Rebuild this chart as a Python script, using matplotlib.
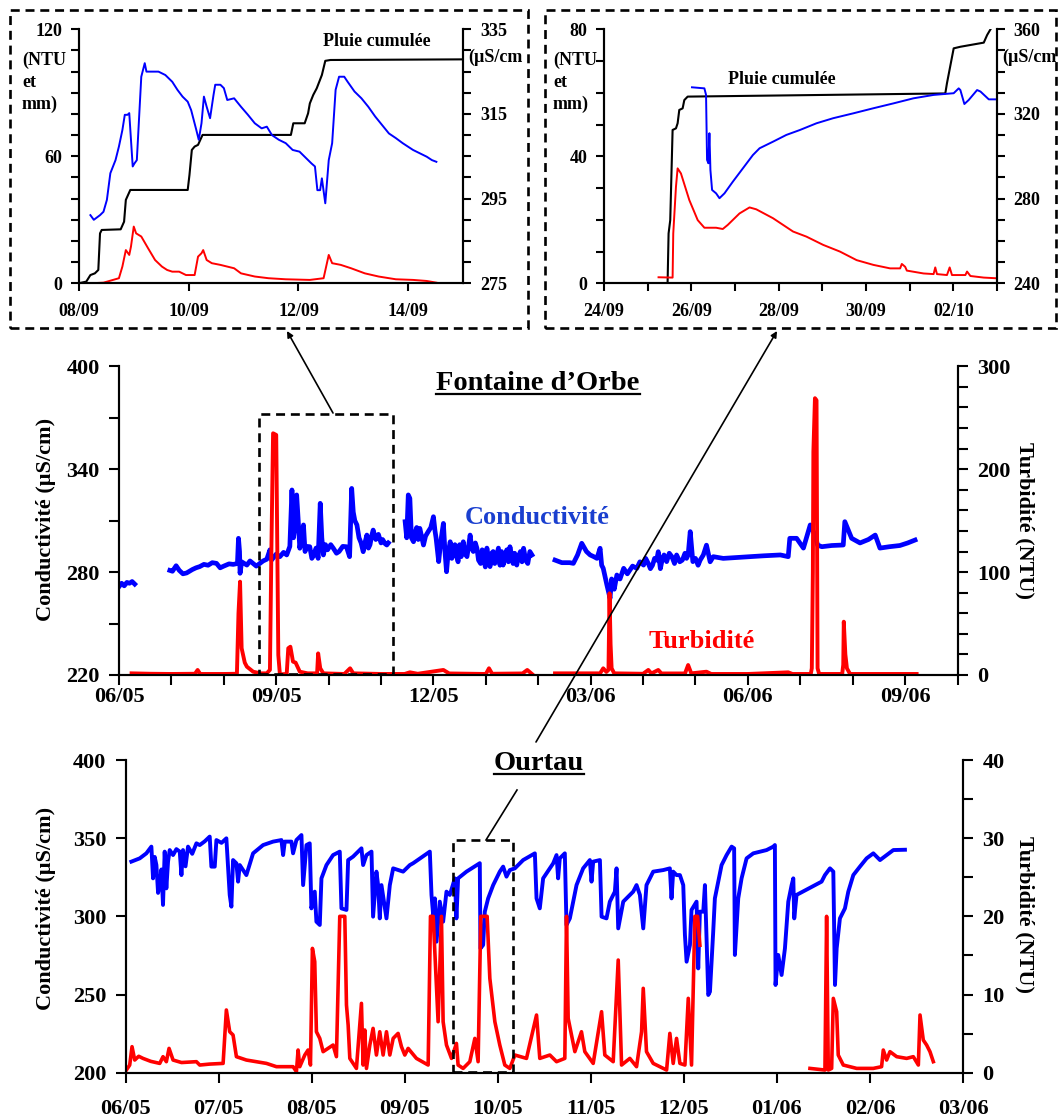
import numpy as np
import matplotlib
matplotlib.use('Agg')
from matplotlib import pyplot as plt
from matplotlib.patches import Rectangle, FancyArrowPatch
from matplotlib.lines import Line2D

plt.rcParams.update({'font.family': 'Liberation Serif', 'font.weight': 'bold',
                     'font.size': 16})

nan = np.nan

# ---------------- data ----------------
# inset 1 : days since 08/09
in1_xlabels = ['08/09', '10/09', '12/09', '14/09']
in1_rain = np.array([
    (0.0, 0.0), (0.138, 0.8), (0.213, 3.9), (0.294, 4.7), (0.357, 6.3), (0.388, 23.6),
    (0.419, 25.2), (0.764, 25.5), (0.826, 29.1), (0.858, 39.4), (0.939, 44.1),
    (1.984, 44.1), (2.016, 51.2), (2.059, 63.0), (2.110, 64.6), (2.172, 65.4),
    (2.254, 70.1), (3.862, 70.1), (3.906, 75.6), (4.113, 75.6), (4.175, 80.3),
    (4.207, 85.0), (4.269, 89.0), (4.332, 92.1), (4.426, 98.4), (4.488, 105.1),
    (4.582, 105.5), (7.0, 105.8)])
in1_turb = np.array([
    (0.213, 0.0), (0.451, 0.3), (0.732, 2.4), (0.795, 7.9), (0.858, 15.7), (0.920, 13.4),
    (0.951, 17.3), (1.002, 26.8), (1.045, 23.6), (1.139, 22.1), (1.264, 16.5),
    (1.390, 11.0), (1.515, 7.9), (1.609, 6.3), (1.703, 5.5), (1.828, 5.5), (1.953, 3.9),
    (2.110, 3.9), (2.172, 12.6), (2.235, 14.2), (2.266, 15.7), (2.329, 11.0),
    (2.423, 9.5), (2.579, 8.7), (2.829, 7.1), (2.954, 4.7), (3.205, 3.2), (3.455, 2.4),
    (3.768, 1.9), (4.207, 1.6), (4.457, 2.4), (4.551, 13.4), (4.613, 9.5), (4.770, 8.7),
    (4.958, 7.1), (5.208, 4.7), (5.459, 3.2), (5.772, 1.9), (6.085, 1.6), (6.335, 1.1),
    (6.510, 0.3)])
in1_cond = np.array([
    (0.213, 291.1), (0.275, 290.0), (0.388, 291.1), (0.451, 291.9), (0.513, 294.7),
    (0.576, 301.0), (0.670, 304.1), (0.732, 307.3), (0.795, 311.2), (0.839, 314.8),
    (0.889, 314.8), (0.920, 315.2), (0.983, 302.6), (1.014, 303.3), (1.058, 304.1),
    (1.139, 323.8), (1.202, 327.0), (1.233, 325.0), (1.327, 325.0), (1.452, 325.0),
    (1.577, 324.2), (1.703, 322.6), (1.797, 320.7), (1.890, 319.1), (1.984, 317.9),
    (2.047, 315.9), (2.141, 311.2), (2.185, 308.9), (2.235, 312.8), (2.279, 319.1),
    (2.329, 316.7), (2.391, 314.0), (2.454, 319.5), (2.485, 321.9), (2.579, 321.9),
    (2.642, 321.1), (2.704, 318.3), (2.829, 318.7), (2.954, 316.7), (3.080, 314.8),
    (3.205, 312.8), (3.330, 311.6), (3.424, 312.0), (3.518, 310.0), (3.643, 308.9),
    (3.768, 308.1), (3.894, 306.5), (4.019, 306.1), (4.144, 304.5), (4.238, 303.3),
    (4.300, 302.6), (4.344, 297.0), (4.394, 297.0), (4.426, 299.8), (4.488, 293.9),
    (4.551, 304.1), (4.613, 308.1), (4.676, 320.7), (4.739, 323.8), (4.833, 323.8),
    (4.895, 322.6), (5.020, 320.3), (5.146, 318.7), (5.271, 316.7), (5.396, 314.4),
    (5.521, 312.4), (5.646, 310.4), (5.772, 309.3), (5.897, 308.1), (5.991, 307.3),
    (6.085, 306.5), (6.210, 305.7), (6.335, 304.9), (6.429, 304.1), (6.510, 303.7)])

# inset 2 : days since 24/09
in2_xlabels = ['24/09', '26/09', '28/09', '30/09', '02/10']
in2_rain = np.array([
    (1.456, 0.0), (1.479, 15.7), (1.517, 19.9), (1.571, 48.3), (1.648, 48.8),
    (1.686, 50.4), (1.724, 54.6), (1.801, 55.1), (1.839, 57.7), (1.916, 58.8),
    (7.816, 59.8), (7.854, 63.0), (8.008, 74.0), (8.161, 74.5), (8.697, 75.8),
    (8.774, 78.2), (8.851, 80.0)])
in2_turb = np.array([
    (1.249, 1.9), (1.571, 1.8), (1.586, 15.7), (1.648, 30.4), (1.686, 36.2), (1.762, 34.6),
    (1.954, 26.2), (2.146, 19.9), (2.299, 17.5), (2.567, 17.5), (2.720, 17.1),
    (2.835, 18.4), (3.103, 22.0), (3.333, 23.9), (3.487, 23.3), (3.870, 20.5),
    (4.330, 16.3), (4.636, 14.7), (5.019, 12.1), (5.402, 10.0), (5.785, 7.3),
    (6.169, 5.8), (6.552, 4.7), (6.782, 4.7), (6.820, 6.1), (6.897, 5.2), (6.935, 4.0),
    (7.318, 3.1), (7.548, 2.9), (7.586, 5.0), (7.625, 2.9), (7.854, 2.6), (7.916, 5.0),
    (7.969, 2.6), (8.276, 2.6), (8.314, 3.7), (8.391, 2.3), (8.697, 1.8), (8.966, 1.6)])
in2_cond = np.array([
    (2.015, 332.6), (2.299, 332.1), (2.337, 329.0), (2.360, 298.3), (2.391, 296.7),
    (2.414, 310.9), (2.437, 293.5), (2.475, 284.1), (2.567, 282.5), (2.644, 280.2),
    (2.759, 282.5), (2.950, 288.0), (3.180, 294.3), (3.410, 300.6), (3.563, 303.8),
    (3.870, 306.9), (4.176, 310.1), (4.483, 312.4), (4.866, 315.6), (5.249, 318.0),
    (5.709, 320.3), (6.169, 322.7), (6.628, 325.0), (7.088, 327.4), (7.548, 329.0),
    (8.008, 329.8), (8.123, 332.1), (8.161, 331.3), (8.253, 324.7), (8.352, 326.6),
    (8.544, 331.3), (8.621, 330.6), (8.812, 326.9), (9.004, 326.9)])

# Fontaine d'Orbe : months since 06/05
fo_xlabels = ['06/05', '09/05', '12/05', '03/06', '06/06', '09/06']
fo_cond = np.array([
    (0.00, 271.5), (0.05, 273.5), (0.10, 272.0), (0.15, 274.0), (0.20, 273.5),
    (0.25, 274.5), (0.30, 273.0), (nan, nan),
    (0.97, 281.0), (1.02, 280.5), (1.09, 283.7), (1.15, 281.0), (1.22, 279.0),
    (1.29, 279.5), (1.40, 281.5), (1.47, 282.5), (1.54, 283.2), (1.62, 284.5),
    (1.70, 284.0), (1.78, 285.5), (1.86, 285.1), (1.93, 282.5), (2.00, 283.5),
    (2.10, 284.8), (2.18, 284.5), (2.26, 285.0), (2.28, 299.7), (2.30, 292.0),
    (2.31, 279.3), (2.34, 286.0), (2.44, 284.1), (2.50, 286.5), (2.56, 285.0),
    (2.62, 283.5), (2.69, 285.1), (2.75, 286.5), (2.82, 287.5), (2.88, 293.0),
    (2.91, 287.0), (3.00, 290.5), (3.07, 289.0), (3.14, 291.5), (3.20, 290.0),
    (3.26, 295.0), (3.30, 327.9), (3.33, 300.0), (3.35, 305.0), (3.39, 325.0),
    (3.42, 310.0), (3.45, 293.9), (3.48, 300.0), (3.52, 307.5), (3.55, 292.0),
    (3.58, 295.0), (3.64, 294.8), (3.68, 288.0), (3.72, 290.0), (3.76, 294.0),
    (3.80, 288.0), (3.84, 320.1), (3.87, 300.0), (3.90, 290.0), (3.94, 296.0),
    (3.98, 293.0), (4.04, 296.0), (4.09, 293.9), (4.15, 291.0), (4.20, 292.0),
    (4.27, 295.0), (4.34, 294.8), (4.40, 289.0), (4.44, 328.8), (4.47, 315.0),
    (4.50, 310.0), (4.54, 307.5), (4.58, 300.0), (4.62, 297.0), (4.66, 291.9),
    (4.70, 298.0), (4.73, 301.6), (4.76, 294.0), (4.79, 296.0), (4.82, 301.0),
    (4.85, 304.5), (4.90, 299.0), (4.95, 302.0), (5.00, 297.0), (5.03, 299.0),
    (5.08, 296.5), (5.11, 295.8), (5.14, 297.0), (nan, nan),
    (5.46, 309.4), (5.49, 300.0), (5.52, 325.0), (5.55, 323.0), (5.58, 300.0),
    (5.62, 297.7), (5.65, 303.0), (5.68, 306.0), (5.71, 299.0), (5.74, 305.5),
    (5.78, 300.0), (5.81, 295.8), (5.85, 301.0), (5.90, 303.6), (5.95, 306.0),
    (6.00, 312.3), (6.03, 304.0), (6.05, 300.0), (6.08, 292.0), (6.10, 286.1),
    (6.13, 295.0), (6.15, 300.0), (6.19, 308.4), (6.22, 292.0), (6.25, 280.2),
    (6.28, 291.0), (6.32, 297.7), (6.35, 288.0), (6.38, 290.0), (6.41, 296.0),
    (6.44, 290.0), (6.47, 286.0), (6.50, 296.0), (6.53, 289.0), (6.57, 297.7),
    (6.60, 291.0), (6.64, 289.0), (6.67, 295.0), (6.70, 301.6), (6.73, 294.0),
    (6.76, 292.0), (6.80, 297.0), (6.83, 293.9), (6.86, 287.0), (6.90, 285.0),
    (6.93, 293.0), (6.95, 290.0), (6.99, 283.0), (7.02, 294.0), (7.05, 288.0),
    (7.08, 283.2), (7.11, 291.0), (7.14, 292.0), (7.17, 285.0), (7.21, 290.0),
    (7.24, 294.0), (7.27, 284.0), (7.30, 292.0), (7.33, 284.1), (7.37, 290.0),
    (7.40, 293.0), (7.43, 286.0), (7.46, 294.8), (7.49, 290.0), (7.52, 285.0),
    (7.55, 291.0), (7.59, 284.1), (7.62, 289.0), (7.66, 292.0), (7.69, 286.0),
    (7.72, 293.9), (7.76, 287.0), (7.80, 285.0), (7.84, 292.0), (7.88, 290.0),
    (nan, nan),
    (8.32, 287.0), (8.45, 285.5), (8.60, 285.5), (8.67, 285.1), (8.75, 290.0),
    (8.83, 296.8), (8.92, 292.0), (8.99, 290.0), (9.06, 289.0), (9.12, 288.0),
    (9.18, 293.9), (9.21, 284.0), (9.24, 282.2), (9.31, 272.5), (9.37, 264.7),
    (9.40, 276.0), (9.45, 270.0), (9.50, 278.3), (9.56, 276.0), (9.63, 282.2),
    (9.70, 279.0), (9.80, 283.5), (9.88, 282.2), (9.94, 286.0), (10.01, 284.1),
    (10.05, 288.0), (10.10, 285.0), (10.14, 282.0), (10.18, 284.0), (10.22, 288.0),
    (10.26, 287.0), (10.29, 291.9), (10.33, 282.0), (10.37, 288.0), (10.40, 290.0),
    (10.45, 286.1), (10.50, 291.0), (10.55, 289.0), (10.60, 285.0), (10.64, 290.0),
    (10.70, 286.0), (10.75, 287.0), (10.80, 291.0), (10.83, 288.0), (10.86, 290.0),
    (10.90, 303.6), (10.95, 286.1), (11.00, 288.0), (11.05, 284.0), (11.09, 287.0),
    (11.15, 290.0), (11.21, 295.7), (11.28, 286.0), (11.34, 289.0), (11.53, 288.0),
    (11.80, 288.5), (12.04, 289.0), (12.30, 289.5), (12.62, 290.0), (12.77, 289.0),
    (12.80, 299.7), (12.93, 299.7), (13.06, 294.0), (13.19, 307.5), (13.28, 301.6),
    (13.33, 295.8), (13.41, 294.8), (13.60, 295.5), (13.82, 295.8), (13.85, 309.4),
    (13.98, 299.7), (14.14, 297.0), (14.30, 299.0), (14.43, 301.6), (14.52, 294.0),
    (14.70, 294.8), (14.90, 295.5), (15.05, 297.0), (15.19, 298.7)])
fo_turb = np.array([
    (0.24, 1.6), (0.60, 1.2), (1.00, 1.0), (1.45, 1.2), (1.50, 4.9), (1.55, 1.0),
    (2.00, 1.0), (2.25, 1.2), (2.28, 60.0), (2.31, 90.7), (2.34, 26.0), (2.40, 12.0),
    (2.44, 8.1), (2.56, 3.2), (2.70, 1.6), (2.82, 1.6), (2.88, 5.0), (2.91, 129.6),
    (2.94, 234.9), (3.00, 233.3), (3.04, 19.4), (3.07, 0.6), (3.20, 1.0), (3.23, 26.0),
    (3.27, 27.5), (3.32, 13.0), (3.37, 12.0), (3.45, 3.2), (3.60, 1.6), (3.78, 1.6),
    (3.80, 21.0), (3.84, 6.5), (3.90, 1.6), (4.30, 1.0), (4.41, 6.5), (4.47, 1.6),
    (5.00, 1.0), (5.45, 1.0), (5.55, 2.6), (5.70, 1.2), (6.19, 4.9), (6.30, 1.5),
    (7.00, 1.0), (7.06, 6.5), (7.12, 1.2), (7.70, 1.5), (7.79, 4.9), (7.88, 1.0),
    (nan, nan),
    (8.32, 1.6), (8.70, 1.6), (9.18, 1.6), (9.24, 6.5), (9.30, 3.0), (9.34, 5.0),
    (9.36, 79.4), (9.38, 30.0), (9.40, 6.5), (9.45, 1.6), (10.00, 1.2), (10.10, 4.9),
    (10.16, 1.5), (10.29, 4.9), (10.35, 1.5), (10.80, 1.5), (10.86, 9.7), (10.92, 1.6),
    (11.21, 3.2), (11.30, 1.0), (12.00, 1.0), (12.77, 2.6), (12.85, 1.0), (13.20, 1.0),
    (13.22, 6.5), (13.24, 100.0), (13.25, 217.0), (13.28, 269.0), (13.31, 267.0),
    (13.33, 6.5), (13.36, 1.0), (13.80, 1.0), (13.82, 10.0), (13.83, 51.8),
    (13.86, 20.0), (13.89, 6.5), (13.95, 1.0), (15.22, 1.0)])

# Ourtau : months since 06/05
ou_xlabels = ['06/05', '07/05', '08/05', '09/05', '10/05', '11/05', '12/05',
              '01/06', '02/06', '03/06']
ou_cond = np.array([
    (0.061, 335.0), (0.151, 337.1), (0.222, 340.3), (0.276, 344.6), (0.294, 324.3),
    (0.312, 338.0), (0.330, 332.8), (0.348, 315.0), (0.366, 320.0), (0.384, 330.0),
    (0.401, 307.3), (0.419, 341.4), (0.437, 317.9), (0.455, 335.0), (0.473, 342.4),
    (0.509, 339.2), (0.545, 343.0), (0.581, 341.4), (0.599, 326.4), (0.616, 342.4),
    (0.643, 332.0), (0.670, 344.6), (0.715, 340.0), (0.760, 346.7), (0.796, 345.6),
    (0.850, 348.0), (0.903, 351.0), (0.921, 331.8), (0.957, 331.8), (0.975, 348.8),
    (1.030, 347.0), (1.082, 349.9), (1.118, 313.7), (1.136, 306.2),
    (1.154, 336.0), (1.190, 333.9), (1.208, 322.2), (1.226, 332.8), (1.297, 326.4),
    (1.369, 340.3), (1.477, 345.6), (1.584, 347.8), (1.674, 348.8), (1.692, 339.2),
    (1.710, 347.8), (1.781, 347.8), (1.799, 340.3), (1.835, 348.8), (1.889, 352.0),
    (1.907, 320.0), (1.943, 345.6), (1.978, 346.7), (1.996, 305.1), (2.032, 315.8),
    (2.050, 296.6), (2.086, 294.5), (2.104, 324.3), (2.158, 332.8), (2.229, 339.2),
    (2.301, 341.4), (2.319, 305.1), (2.373, 304.1), (2.391, 336.0), (2.444, 338.2),
    (2.534, 343.5), (2.552, 332.8), (2.588, 339.2), (2.642, 341.4), (2.659, 299.8),
    (2.695, 328.6), (2.713, 320.0), (2.731, 298.7), (2.749, 320.0), (2.803, 298.7),
    (2.839, 320.0), (2.875, 330.7), (2.982, 328.6), (3.054, 332.8), (3.090, 334.0),
    (3.269, 341.4), (3.287, 313.7), (3.305, 300.9), (3.323, 311.5), (3.341, 283.8),
    (3.376, 309.4), (3.412, 296.6), (3.448, 315.8), (3.484, 313.7), (3.538, 324.3),
    (3.555, 298.7), (3.573, 324.3), (3.663, 328.6), (3.806, 334.0), (3.813, 279.5),
    (3.842, 281.7), (3.860, 303.0), (3.896, 311.5), (3.950, 320.0), (4.021, 328.6),
    (4.057, 331.8), (4.093, 325.4), (4.129, 329.6), (4.183, 330.7), (4.272, 336.0),
    (4.398, 340.3), (4.416, 311.5), (4.451, 305.1), (4.487, 324.3), (4.595, 333.9),
    (4.631, 339.2), (4.648, 324.3), (4.666, 337.1), (4.720, 340.3), (4.738, 294.5),
    (4.774, 298.7), (4.846, 320.0), (4.917, 330.7), (4.989, 336.0), (5.007, 322.2),
    (5.025, 335.0), (5.097, 336.0), (5.115, 299.8), (5.168, 298.7), (5.204, 309.4),
    (5.258, 315.8), (5.276, 330.7), (5.294, 292.3), (5.348, 309.4), (5.455, 315.8),
    (5.491, 320.0), (5.527, 313.7), (5.563, 292.3), (5.598, 320.0), (5.670, 328.6),
    (5.778, 329.6), (5.849, 330.7), (5.867, 311.5), (5.885, 328.6), (5.921, 326.4),
    (5.957, 326.4), (5.993, 320.0), (6.011, 288.1), (6.029, 271.0), (6.065, 281.7),
    (6.082, 304.1), (6.136, 309.4), (6.154, 266.7), (6.172, 303.0), (6.208, 303.0),
    (6.226, 320.0), (6.262, 249.7), (6.280, 251.8), (6.315, 290.2), (6.333, 311.5),
    (6.369, 322.2), (6.405, 332.8), (6.459, 339.2), (6.513, 344.6), (6.540, 343.5),
    (6.548, 275.3), (6.584, 311.5), (6.620, 324.3), (6.674, 337.1), (6.746, 340.3),
    (6.889, 342.4), (6.961, 344.6), (6.978, 345.6), (6.985, 256.1), (7.014, 275.3),
    (7.050, 262.5), (7.086, 279.5), (7.122, 309.4), (7.158, 320.0), (7.176, 324.3),
    (7.186, 298.7), (7.211, 313.7), (7.480, 322.2), (7.516, 326.4), (7.570, 330.7),
    (7.606, 328.6), (7.624, 256.1), (7.642, 279.5), (7.677, 298.7), (7.731, 305.1),
    (7.767, 315.8), (7.821, 326.4), (7.892, 331.8), (7.964, 337.1), (8.036, 340.3),
    (8.108, 336.0), (8.179, 339.2), (8.251, 342.4), (8.376, 342.6)])
ou_turb = np.array([
    (0.007, 0.34), (0.043, 0.98), (0.068, 3.33), (0.097, 1.62), (0.140, 2.10),
    (0.186, 1.83), (0.270, 1.45), (0.366, 1.19), (0.401, 2.05), (0.437, 1.41),
    (0.466, 3.11), (0.509, 1.62), (0.600, 1.30), (0.760, 1.41), (0.796, 0.98),
    (0.900, 1.10), (1.047, 1.19), (1.082, 8.02), (1.118, 5.24),
    (1.154, 4.82), (1.190, 2.05), (1.297, 1.62), (1.513, 1.19), (1.620, 0.77),
    (1.799, 0.77), (1.835, 0.13), (1.853, 2.90), (1.871, 0.77), (1.925, 2.26),
    (1.960, 2.90), (1.986, 0.98), (2.007, 15.9), (2.032, 14.2), (2.050, 5.24),
    (2.086, 4.39), (2.122, 2.69), (2.229, 3.54), (2.265, 2.05), (2.301, 20.0),
    (2.355, 20.0), (2.373, 8.66), (2.391, 6.10), (2.409, 1.83), (2.480, 0.55),
    (2.534, 8.87), (2.552, 0.98), (2.570, 5.46), (2.588, 0.55), (2.624, 3.54),
    (2.659, 5.67), (2.695, 2.26), (2.731, 5.24), (2.767, 2.26), (2.803, 5.24),
    (2.839, 2.26), (2.875, 4.39), (2.928, 5.03), (2.964, 3.33), (3.000, 2.26),
    (3.036, 3.11), (3.125, 1.83), (3.251, 0.98), (3.276, 20.0), (3.305, 20.0),
    (3.358, 6.52), (3.394, 20.0), (3.412, 6.52), (3.448, 3.54), (3.502, 1.83),
    (3.555, 3.75), (3.573, 0.98), (3.627, 0.55), (3.699, 1.41), (3.753, 4.39),
    (3.788, 1.41), (3.817, 20.0), (3.885, 20.0), (3.914, 12.07), (3.968, 6.52),
    (4.021, 3.54), (4.075, 0.98), (4.129, 0.55), (4.183, 2.26), (4.308, 1.83),
    (4.416, 7.38), (4.451, 1.83), (4.559, 2.26), (4.631, 1.41), (4.720, 1.83),
    (4.738, 20.0), (4.756, 6.95), (4.792, 4.82), (4.828, 2.69), (4.899, 5.24),
    (4.935, 2.69), (5.025, 1.19), (5.115, 7.80), (5.150, 2.26), (5.240, 1.41),
    (5.294, 14.41), (5.330, 0.98), (5.419, 1.83), (5.491, 0.77), (5.545, 5.24),
    (5.563, 10.79), (5.598, 2.69), (5.670, 1.19), (5.814, 0.34), (5.849, 5.03),
    (5.885, 1.19), (5.921, 4.39), (5.957, 1.19), (6.011, 0.98), (6.047, 9.51),
    (6.082, 0.98), (6.118, 20.0), (6.147, 20.0), (6.172, 16.3), (nan, nan),
    (7.355, 0.55), (7.516, 0.34), (7.534, 20.0), (7.552, 0.34), (7.588, 0.55),
    (7.606, 9.51), (7.642, 7.80), (7.659, 2.26), (7.713, 0.98), (7.857, 0.55),
    (8.036, 0.55), (8.125, 0.77), (8.143, 2.90), (8.179, 1.62), (8.215, 2.69),
    (8.287, 2.05), (8.394, 1.83), (8.466, 2.05), (8.520, 0.98), (8.538, 7.38),
    (8.573, 4.18), (8.609, 3.54), (8.645, 2.69), (8.681, 1.41)])

BLUE = '#0000ff'
RED = '#ff0000'
W, H = 1059, 1117


def rect(x0, y0, x1, y1):
    # pixel box (top-left origin) -> figure fraction rect
    return [x0 / W, 1 - y1 / H, (x1 - x0) / W, (y1 - y0) / H]


def fx(x):
    return x / W


def fy(y):
    return 1 - y / H


def style(ax, size, length, pad):
    ax.spines['top'].set_visible(False)
    for s in ax.spines.values():
        s.set_linewidth(1.5)
    ax.tick_params(which='both', direction='out', length=length, width=1.5,
                   labelsize=size, pad=pad)


fig = plt.figure(figsize=(W / 100, H / 100), dpi=100)

# ---------------- inset 1 ----------------
a1 = fig.add_axes(rect(78.7, 29.3, 463.3, 283.3))
b1 = a1.twinx()
a1.plot(in1_rain[:, 0], in1_rain[:, 1], color='k', lw=1.5)
a1.plot(in1_turb[:, 0], in1_turb[:, 1], color=RED, lw=1.4)
b1.plot(in1_cond[:, 0], in1_cond[:, 1], color=BLUE, lw=1.4)
a1.set_xlim(0, 7)
a1.set_ylim(0, 120)
b1.set_ylim(275, 335)
a1.set_xticks([0, 2, 4, 6], in1_xlabels)
a1.set_yticks([0, 60, 120])
a1.set_yticks(np.arange(0, 121, 10), minor=True)
b1.set_yticks([275, 295, 315, 335])
b1.set_yticks(np.arange(275, 336, 5), minor=True)
for ax in (a1, b1):
    style(ax, 13, 6, 6)
a1.tick_params(axis='x', pad=8)

# ---------------- inset 2 ----------------
a2 = fig.add_axes(rect(604, 29.3, 997, 283.3))
b2 = a2.twinx()
a2.plot(in2_rain[:, 0], in2_rain[:, 1], color='k', lw=1.5)
a2.plot(in2_turb[:, 0], in2_turb[:, 1], color=RED, lw=1.4)
b2.plot(in2_cond[:, 0], in2_cond[:, 1], color=BLUE, lw=1.4)
a2.set_xlim(0, 9)
a2.set_ylim(0, 80)
b2.set_ylim(240, 360)
a2.set_xticks([0, 2, 4, 6, 8], in2_xlabels)
a2.set_xticks(np.arange(0, 10), minor=True)
a2.set_yticks([0, 40, 80])
a2.set_yticks(np.arange(0, 81, 10), minor=True)
b2.set_yticks([240, 280, 320, 360])
b2.set_yticks(np.arange(240, 361, 10), minor=True)
for ax in (a2, b2):
    style(ax, 13, 6, 6)
a2.tick_params(axis='x', pad=8)

for x0 in (22, 553):
    fig.text(fx(x0), fy(52), '(NTU\net\nmm)', fontsize=13, ha='left', va='top',
             linespacing=1.35)
fig.text(fx(468), fy(57), '(µS/cm', fontsize=13, ha='left', va='center')
fig.text(fx(1002), fy(57), '(µS/cm', fontsize=13, ha='left', va='center')
fig.text(fx(377), fy(42), 'Pluie cumulée', fontsize=13, ha='center', va='center')
fig.text(fx(782), fy(79), 'Pluie cumulée', fontsize=13, ha='center', va='center')

# ---------------- Fontaine d'Orbe ----------------
a3 = fig.add_axes(rect(119, 366.3, 957.5, 675))
b3 = a3.twinx()
a3.plot(fo_cond[:, 0], fo_cond[:, 1], color=BLUE, lw=3.4)
b3.plot(fo_turb[:, 0], fo_turb[:, 1], color=RED, lw=2.8)
a3.set_xlim(0, 16)
a3.set_ylim(220, 400)
b3.set_ylim(0, 300)
a3.set_xticks([0, 3, 6, 9, 12, 15], fo_xlabels)
a3.set_xticks(np.arange(0, 17), minor=True)
a3.set_yticks([220, 280, 340, 400])
a3.set_yticks(np.arange(220, 401, 30), minor=True)
b3.set_yticks([0, 100, 200, 300])
b3.set_yticks(np.arange(0, 301, 20), minor=True)
for ax in (a3, b3):
    style(ax, 16, 7, 7)
a3.tick_params(axis='x', pad=2)

# ---------------- Ourtau ----------------
a4 = fig.add_axes(rect(125.7, 760, 963, 1072.7))
b4 = a4.twinx()
a4.plot(ou_cond[:, 0], ou_cond[:, 1], color=BLUE, lw=2.8)
b4.plot(ou_turb[:, 0], ou_turb[:, 1], color=RED, lw=2.6)
a4.set_xlim(0, 9)
a4.set_ylim(200, 400)
b4.set_ylim(0, 40)
a4.set_xticks(np.arange(0, 10), ou_xlabels)
a4.set_yticks(np.arange(200, 401, 50))
b4.set_yticks(np.arange(0, 41, 10))
b4.set_yticks(np.arange(0, 41, 5), minor=True)
for ax in (a4, b4):
    style(ax, 16, 7, 7)
a4.tick_params(axis='x', pad=12)

# axis labels
for yc in (519, 908):
    fig.text(fx(46), fy(yc), 'Conductivité (µS/cm)', fontsize=16, rotation=90,
             ha='center', va='center')
for yc in (520, 914):
    fig.text(fx(1025), fy(yc), 'Turbidité (NTU)', fontsize=16, rotation=-90,
             ha='center', va='center')

fig.text(fx(537), fy(517), 'Conductivité', fontsize=19, color='#1a3fcf',
         ha='center', va='center')
fig.text(fx(702), fy(641), 'Turbidité', fontsize=19, color=RED,
         ha='center', va='center')

titles = [fig.text(fx(538), fy(383), 'Fontaine d\u2019Orbe', fontsize=20.5,
                   ha='center', va='center'),
          fig.text(fx(539), fy(763), 'Ourtau', fontsize=20.5,
                   ha='center', va='center')]

# dashed boxes and arrows
dash = (0, (3.4, 2.2))
for x0, x1 in ((10, 528), (545, 1056)):
    fig.add_artist(Rectangle((fx(x0), fy(328)), (x1 - x0) / W, (328 - 10) / H,
                             transform=fig.transFigure, fill=False, ec='k',
                             lw=1.9, ls=dash))
for x0, y0, x1, y1 in ((259.3, 414, 392.7, 674), (453, 840, 513, 1072)):
    fig.add_artist(Rectangle((fx(x0), fy(y1)), (x1 - x0) / W, (y1 - y0) / H,
                             transform=fig.transFigure, fill=False, ec='k',
                             lw=1.9, ls=dash))

for p0, p1 in (((333, 413), (287, 331)), ((536, 742), (777, 331))):
    fig.add_artist(FancyArrowPatch((fx(p0[0]), fy(p0[1])), (fx(p1[0]), fy(p1[1])),
                                   transform=fig.transFigure, arrowstyle='-|>',
                                   mutation_scale=9, lw=1.2, color='k',
                                   shrinkA=0, shrinkB=0))
fig.add_artist(Line2D([fx(486), fx(517)], [fy(840), fy(790)],
                      transform=fig.transFigure, color='k', lw=1.2))

# underline the two titles
fig.canvas.draw()
inv = fig.transFigure.inverted()
for t in titles:
    bb = t.get_window_extent().transformed(inv)
    fig.add_artist(Line2D([bb.x0, bb.x1], [bb.y0 + 1.5 / H, bb.y0 + 1.5 / H],
                          transform=fig.transFigure, color='k', lw=1.6))

fig.savefig('out.png', dpi=100)
